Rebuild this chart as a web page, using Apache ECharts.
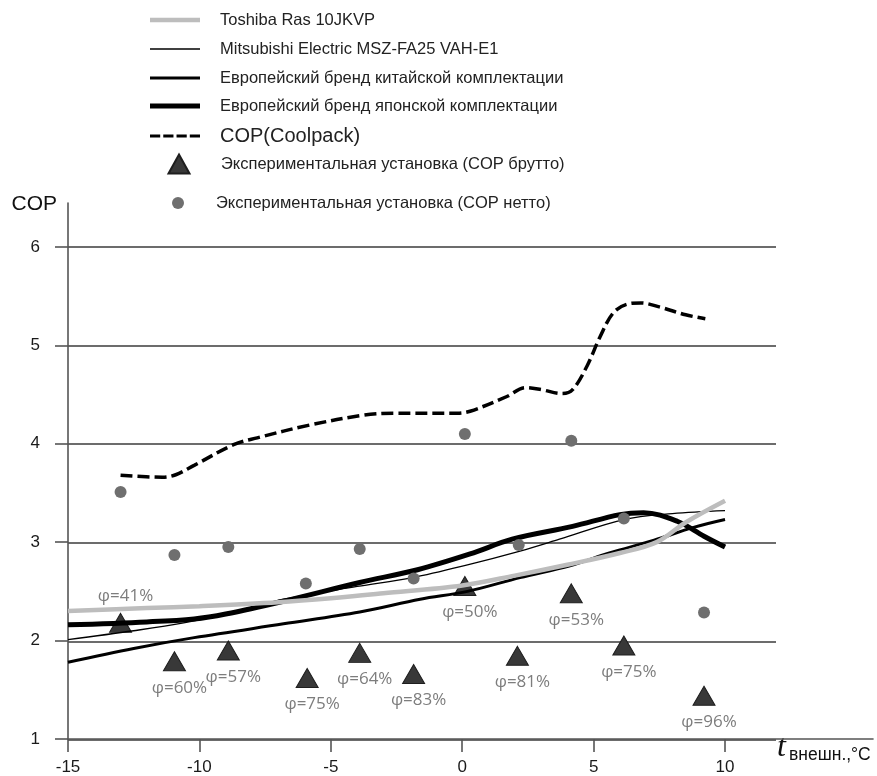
<!DOCTYPE html>
<html><head><meta charset="utf-8">
<script src="https://cdn.jsdelivr.net/npm/echarts@6/dist/echarts.min.js"></script>
<style>html,body{margin:0;padding:0;background:#fff}#c{width:877px;height:776px}</style>
</head><body><div id="c"></div>
<script>
// ---- data ----
const xTicks = [-15, -10, -5, 0, 5, 10];
const yTicks = [1, 2, 3, 4, 5, 6];
const names = [
  'Toshiba Ras 10JKVP',
  'Mitsubishi Electric MSZ-FA25 VAH-E1',
  'Европейский бренд китайской комплектации',
  'Европейский бренд японской комплектации',
  'COP(Coolpack)',
  'Экспериментальная установка (COP брутто)',
  'Экспериментальная установка (COP нетто)'
];
const toshiba = [[-15,2.3],[-12,2.33],[-10,2.35],[-7,2.39],[-5,2.43],[-3,2.48],[0,2.56],[2,2.66],[4,2.77],[6,2.89],[7.4,3.0],[8.5,3.2],[10,3.42]];
const mitsubishi = [[-15,2.01],[-12.5,2.1],[-10.6,2.18],[-8.5,2.3],[-6.8,2.42],[-4,2.55],[-1.9,2.64],[0.2,2.77],[2.2,2.91],[3.7,3.03],[6.15,3.23],[8,3.29],[10,3.32]];
const euroChina = [[-15,1.78],[-12.5,1.92],[-10.2,2.03],[-6.8,2.17],[-3.9,2.29],[-1.6,2.42],[0.2,2.5],[2.2,2.64],[4.1,2.76],[5.6,2.89],[7.3,3.02],[8.8,3.15],[10,3.23]];
const euroJapan = [[-15,2.16],[-12,2.19],[-10.2,2.22],[-9,2.27],[-6.8,2.4],[-3.9,2.59],[-1.7,2.72],[0.3,2.88],[1.9,3.03],[4.2,3.16],[6,3.28],[6.9,3.3],[8.2,3.21],[9.2,3.06],[10,2.95]];
const coolpack = [[-13.0,3.68],[-11.4,3.66],[-10.9,3.685],[-10.2,3.78],[-8.7,3.99],[-7.8,4.06],[-5.8,4.19],[-3.75,4.29],[-2.6,4.31],[-0.2,4.31],[0.3,4.33],[1.7,4.48],[2.4,4.57],[3.0,4.55],[3.8,4.51],[4.2,4.55],[4.75,4.79],[5.25,5.09],[5.75,5.33],[6.3,5.42],[6.8,5.43],[7.5,5.39],[8.5,5.31],[9.25,5.27]];
const brutto = [[-13.0,2.18],[-10.95,1.79],[-8.9,1.9],[-5.9,1.62],[-3.9,1.875],[-1.85,1.66],[0.1,2.555],[2.1,1.845],[4.15,2.48],[6.15,1.95],[9.2,1.44]];
const bruttoPhi = ['φ=41%','φ=60%','φ=57%','φ=75%','φ=64%','φ=83%','φ=50%','φ=81%','φ=53%','φ=75%','φ=96%'];
const netto = [[-13.0,3.51],[-10.95,2.87],[-8.9,2.95],[-5.95,2.58],[-3.9,2.93],[-1.85,2.63],[0.1,4.1],[2.15,2.97],[4.15,4.03],[6.15,3.24],[9.2,2.285]];

// ---- layout / style ----
const FONT = '"Liberation Sans", Arial, sans-serif';
const xMin = -15, xMax = 15.63, yMin = 1, yMax = 6.446;
const dashIcon = 'path://M0 0H10V3H0Z M13 0H23V3H13Z M26 0H36V3H26Z M39 0H49V3H39Z';

function lg(name, icon, left, top, w, h, pad, size) {
  const item = icon ? { name: name, icon: icon } : { name: name };
  return {
    data: [item], left: left, top: top, orient: 'vertical', padding: 0,
    itemWidth: w, itemHeight: h, selectedMode: false,
    textStyle: { fontFamily: FONT, fontSize: size || 16.5, color: '#222', padding: [0, 0, 0, pad] }
  };
}

const chart = echarts.init(document.getElementById('c'), null, { renderer: 'canvas' });
chart.setOption({
  animation: false,
  backgroundColor: '#fff',
  legend: [
    lg(names[0], 'rect', 150, 11.5, 50, 4.5, 15),
    lg(names[1], 'rect', 150, 40.5, 50, 1.5, 15),
    lg(names[2], 'rect', 150, 69.5, 50, 3.2, 15),
    lg(names[3], 'rect', 150, 97.5, 50, 5, 15),
    lg(names[4], dashIcon, 150, 126, 50, 3.5, 15, 20),
    lg(names[5], null, 167.5, 153.5, 21, 19, 26.5),
    lg(names[6], null, 172, 194.5, 12, 12, 27)
  ],
  grid: [
    { left: 68, right: 4, top: 203, bottom: 36 },
    { left: 68, right: 101, top: 247, bottom: 36 }
  ],
  xAxis: [{
    type: 'value', gridIndex: 0, min: xMin, max: xMax,
    axisLine: { show: true, onZero: false, lineStyle: { color: '#555', width: 1.6 } },
    axisTick: { show: true, length: 13, customValues: xTicks, lineStyle: { color: '#555', width: 1.6 } },
    axisLabel: { customValues: xTicks, fontFamily: FONT, fontSize: 17, color: '#1a1a1a', margin: 20 },
    splitLine: { show: false }
  }, {
    type: 'value', gridIndex: 1, min: xMin, max: 11.95, show: false, splitLine: { show: false }
  }],
  yAxis: [{
    type: 'value', gridIndex: 0, min: yMin, max: yMax,
    name: 'COP', nameLocation: 'end', nameGap: -1,
    nameTextStyle: { fontFamily: FONT, fontSize: 21, color: '#111', align: 'right', verticalAlign: 'middle', padding: [0, 11, 0, 0] },
    axisLine: { show: true, onZero: false, lineStyle: { color: '#555', width: 1.6 } },
    axisTick: { show: true, length: 13, customValues: yTicks, lineStyle: { color: '#555', width: 1.6 } },
    axisLabel: { customValues: yTicks, fontFamily: FONT, fontSize: 17, color: '#1a1a1a', margin: 28 },
    splitLine: { show: false }
  }, {
    type: 'value', gridIndex: 1, min: yMin, max: yTicks[yTicks.length - 1], interval: 1,
    axisLine: { show: false }, axisTick: { show: false }, axisLabel: { show: false },
    splitLine: { show: true, lineStyle: { color: '#6c6c6c', width: 1.8 } }
  }],
  graphic: [
    { type: 'text', left: 777, top: 732, style: { text: 't', font: 'italic 32px "Liberation Serif", serif', fill: '#111' } },
    { type: 'text', left: 789, top: 746, style: { text: 'внешн.,°C', font: '17.5px "Liberation Sans", Arial, sans-serif', fill: '#111' } }
  ],
  series: [
    {
      name: names[5], type: 'scatter', z: 2, symbol: 'triangle', symbolSize: [22, 19],
      itemStyle: { color: '#383838', borderColor: '#1e1e1e', borderWidth: 1, opacity: 1 },
      data: brutto.map((p, i) => ({ value: p, label: i === 0 ? { position: 'top' } : undefined })),
      label: {
        show: true, position: 'bottom', distance: 8, offset: [5, 0],
        formatter: (p) => bruttoPhi[p.dataIndex],
        fontFamily: '"Open Sans", sans-serif', fontSize: 17, color: '#7d7d7d'
      }
    },
    { name: names[3], type: 'line', z: 3, smooth: 0.35, symbol: 'none', data: euroJapan,
      lineStyle: { color: '#000', width: 5 }, itemStyle: { color: '#000' } },
    { name: names[2], type: 'line', z: 3, smooth: 0.35, symbol: 'none', data: euroChina,
      lineStyle: { color: '#000', width: 3 }, itemStyle: { color: '#000' } },
    { name: names[1], type: 'line', z: 3, smooth: 0.35, symbol: 'none', data: mitsubishi,
      lineStyle: { color: '#000', width: 1.3 }, itemStyle: { color: '#000' } },
    { name: names[0], type: 'line', z: 3, smooth: 0.35, symbol: 'none', data: toshiba,
      lineStyle: { color: '#bdbdbd', width: 4.5 }, itemStyle: { color: '#bdbdbd' } },
    { name: names[4], type: 'line', z: 3, smooth: 0.35, symbol: 'none', data: coolpack,
      lineStyle: { color: '#000', width: 3.5, type: [12, 5] }, itemStyle: { color: '#000' } },
    { name: names[6], type: 'scatter', z: 4, symbol: 'circle', symbolSize: 12, data: netto,
      itemStyle: { color: '#6f6f6f', opacity: 1 } }
  ]
});
</script></body></html>
